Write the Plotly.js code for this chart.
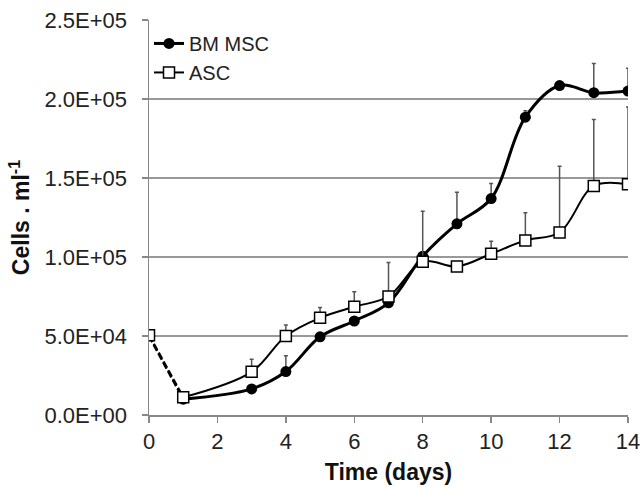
<!DOCTYPE html>
<html>
<head>
<meta charset="utf-8">
<script src="https://cdn.plot.ly/plotly-3.0.1.min.js"></script>
<style>html,body{margin:0;padding:0;background:#fff}#chart{width:643px;height:487px}</style>
</head>
<body>
<div id="chart"></div>
<script>
// Data
const days = [0, 1, 3, 4, 5, 6, 7, 8, 9, 10, 11, 12, 13, 14];
const bmMsc = [50000, 10000, 16500, 27500, 49500, 59500, 71000, 100500, 121000, 137000, 188500, 208500, 204000, 205000];
const bmMscErr = [0, 0, 0, 10000, 0, 0, 0, 0, 20000, 9500, 4000, 0, 18500, 14500];
const asc = [50500, 11200, 27300, 50000, 61500, 68500, 75000, 97000, 94000, 102000, 110500, 115500, 145000, 146000];
const ascErr = [0, 0, 8000, 7000, 6500, 9500, 21500, 32000, 0, 8000, 17500, 42000, 42000, 49000];
const yTickVals = [0, 50000, 100000, 150000, 200000, 250000];
const yTickText = ["0.0E+00", "5.0E+04", "1.0E+05", "1.5E+05", "2.0E+05", "2.5E+05"];
const xTickVals = [0, 2, 4, 6, 8, 10, 12, 14];

const font = "Arial, 'Liberation Sans', sans-serif";
const zeros = n => new Array(n).fill(0);

const traces = [
  // dashed first segment (day 0 -> day 1)
  {x: days.slice(0, 2), y: bmMsc.slice(0, 2), mode: 'lines', showlegend: false, hoverinfo: 'skip',
   line: {color: '#000', width: 2.5, dash: '7px,3px'}},
  {x: days.slice(0, 2), y: asc.slice(0, 2), mode: 'lines', showlegend: false, hoverinfo: 'skip',
   line: {color: '#000', width: 2.5, dash: '7px,3px'}},
  {x: days.slice(1), y: bmMsc.slice(1), name: 'BM MSC', mode: 'lines+markers',
   line: {color: '#000', width: 3, shape: 'spline', smoothing: 1},
   marker: {symbol: 'circle', size: 11, color: '#000'},
   error_y: {type: 'data', array: bmMscErr.slice(1), arrayminus: zeros(days.length - 1), symmetric: false,
             color: '#555', thickness: 1.5, width: 2}},
  {x: days.slice(1), y: asc.slice(1), name: 'ASC', mode: 'lines+markers',
   line: {color: '#000', width: 2, shape: 'spline', smoothing: 1},
   marker: {symbol: 'square', size: 11, color: '#fff', line: {color: '#000', width: 1.5}},
   error_y: {type: 'data', array: ascErr.slice(1), arrayminus: zeros(days.length - 1), symmetric: false,
             color: '#555', thickness: 1.5, width: 2}},
  // day-0 marker
  {x: days.slice(0, 1), y: asc.slice(0, 1), mode: 'markers', showlegend: false, hoverinfo: 'skip',
   marker: {symbol: 'square', size: 11, color: '#fff', line: {color: '#000', width: 1.5}}}
];

const layout = {
  width: 643, height: 487,
  margin: {l: 149, r: 15, t: 20, b: 72},
  paper_bgcolor: '#fff', plot_bgcolor: '#fff',
  font: {family: font, color: '#222', size: 22},
  showlegend: true,
  legend: {x: 0, y: 0.99, xanchor: 'left', yanchor: 'top', bgcolor: 'rgba(0,0,0,0)',
           font: {family: font, size: 20, color: '#222'}, itemwidth: 30, tracegroupgap: 0},
  xaxis: {
    range: [0, 14], tickvals: xTickVals, ticktext: xTickVals.map(String),
    showgrid: false, zeroline: false, showline: true, linecolor: '#888', linewidth: 1.5,
    ticks: 'outside', ticklen: 6, tickcolor: '#888', tickwidth: 1.5,
    tickfont: {family: font, size: 22, color: '#222'},
    title: {text: '<b>Time (days)</b>', font: {family: font, size: 23, color: '#111'}, standoff: 11}
  },
  yaxis: {
    range: [0, 250000], tickvals: yTickVals, ticktext: yTickText,
    showgrid: true, gridcolor: '#999', gridwidth: 1.5, zeroline: false,
    showline: true, linecolor: '#888', linewidth: 1.5,
    ticks: 'outside', ticklen: 6, tickcolor: '#888', tickwidth: 1.5,
    ticklabelstandoff: 10,
    tickfont: {family: font, size: 22, color: '#222'},
    title: {text: '<b>Cells . ml<sup>-1</sup></b>', font: {family: font, size: 23, color: '#111'}, standoff: 8}
  }
};

Plotly.newPlot('chart', traces, layout, {displayModeBar: false, staticPlot: true});
</script>
</body>
</html>
